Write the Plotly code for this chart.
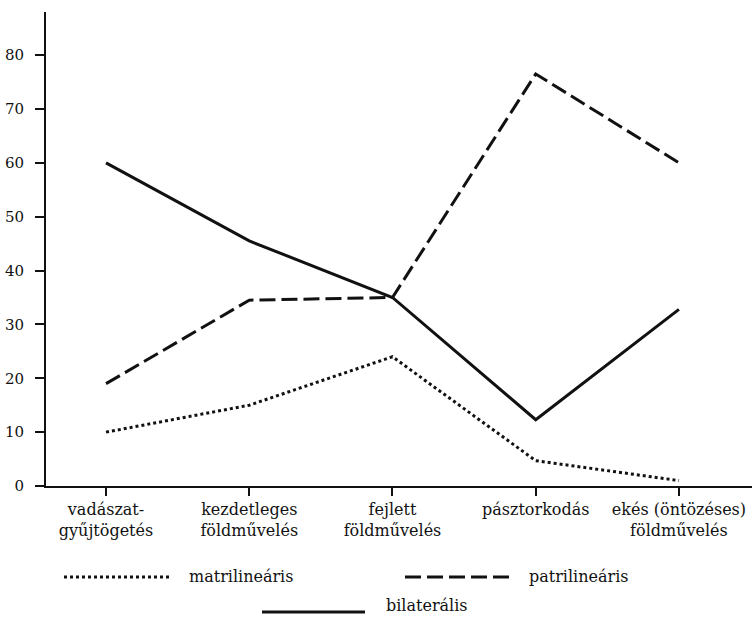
import plotly.graph_objects as go

categories = ["vadászat-<br>gyűjtögetés", "kezdetleges<br>földművelés", "fejlett<br>földművelés",
              "pásztorkodás", "ekés (öntözéses)<br>földművelés"]
matrilinearis = [10, 15, 24, 4.7, 1]
patrilinearis = [19, 34.5, 35, 76.5, 60]
bilateralis = [60, 45.5, 35, 12.3, 32.8]
y_ticks = [0, 10, 20, 30, 40, 50, 60, 70, 80]

FONT = "DejaVu Serif"
INK = "#111111"
W, H = 752, 618
ML, MR, MT, MB = 46, 0, 12, 132

x_idx = list(range(len(categories)))

fig = go.Figure()
fig.add_trace(go.Scatter(x=x_idx, y=matrilinearis, mode="lines", name="matrilineáris",
                         line=dict(color=INK, width=3, dash="3px,3px")))
fig.add_trace(go.Scatter(x=x_idx, y=patrilinearis, mode="lines", name="patrilineáris",
                         line=dict(color=INK, width=3, dash="16px,6px")))
fig.add_trace(go.Scatter(x=x_idx, y=bilateralis, mode="lines", name="bilaterális",
                         line=dict(color=INK, width=3)))

pw = W - ML - MR
ph = H - MT - MB
def px(x):
    return (x - ML) / pw
def py(y):
    return (H - MB - y) / ph

legend_items = [
    ("matrilineáris", "3px,3px", 64, 172, 187, 576, 577),
    ("patrilineáris", "16px,6px", 405, 510, 527, 576, 577),
    ("bilaterális", "solid", 262, 365, 384, 605, 612),
]
for label, dash, x0, x1, tx, ty, ly in legend_items:
    fig.add_shape(type="line", xref="paper", yref="paper",
                  x0=px(x0), x1=px(x1), y0=py(ly), y1=py(ly),
                  line=dict(color=INK, width=3, dash=dash))
    fig.add_annotation(xref="paper", yref="paper", x=px(tx), y=py(ty),
                       text=label, showarrow=False, xanchor="left", yanchor="middle",
                       font=dict(family=FONT, size=16, color=INK))

fig.update_layout(
    width=W, height=H,
    margin=dict(l=ML, r=MR, t=MT, b=MB, autoexpand=False),
    paper_bgcolor="white", plot_bgcolor="white",
    showlegend=False,
    font=dict(family=FONT, size=16, color=INK),
)
fig.update_xaxes(
    range=[-0.419, 4.51], tickmode="array", tickvals=x_idx, ticktext=categories,
    showgrid=False, zeroline=False, showline=True, linecolor=INK, linewidth=2,
    ticks="outside", ticklen=8, tickwidth=2, tickcolor=INK,
    tickfont=dict(family=FONT, size=16, color=INK), tickangle=0, automargin=False,
)
fig.update_yaxes(
    range=[0, 88], tickmode="array", tickvals=y_ticks,
    showgrid=False, zeroline=False, showline=True, linecolor=INK, linewidth=2,
    ticks="outside", ticklen=9, tickwidth=2, tickcolor=INK,
    tickfont=dict(family=FONT, size=15, color=INK), ticklabelstandoff=8, automargin=False,
)

fig.write_html("out.html", config={"displayModeBar": False},
               post_script="document.body.style.margin='0';document.body.style.overflow='hidden';")
